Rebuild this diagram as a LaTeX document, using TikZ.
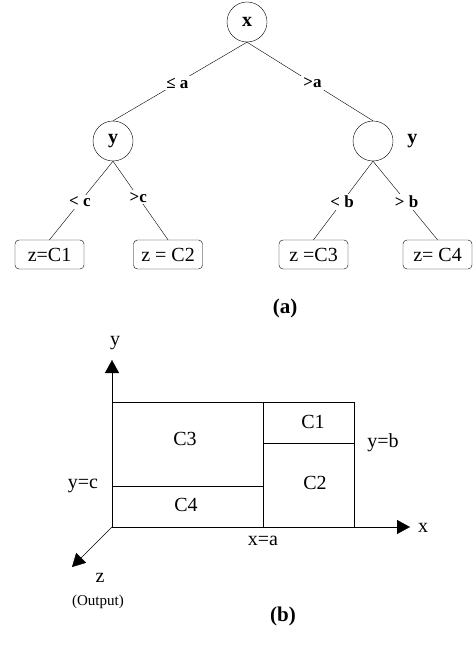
\documentclass[tikz,border=0pt]{standalone}
\usepackage{fontspec}
\setmainfont{Liberation Serif}
\usetikzlibrary{positioning, arrows.meta}

\tikzset{
  split/.style={circle, draw, minimum size=40pt, inner sep=0pt,
    font=\bfseries\fontsize{20}{22}\selectfont},
  leaf/.style={draw, rounded corners=4pt, minimum width=69pt,
    minimum height=29pt, inner sep=0pt},
  cond/.style={fill=white, inner sep=2pt, font=\bfseries\fontsize{17}{20}\selectfont},
  axis/.style={-{Triangle[length=13pt,width=14pt]}},
  caption/.style={font=\bfseries\fontsize{21}{24}\selectfont},
}

\begin{document}
\begin{tikzpicture}[x=1pt, y=-1pt, font=\fontsize{20}{23}\selectfont]
  \useasboundingbox (0,0) rectangle (474,658);

  % (a) decision tree
  \node(x_split)[split] at (247,22) {x};
  \node(y_left)[split] at (113,141) {y};
  \node(y_right)[split] at (373,141) {};
  \node(y_right_lab)[right=14pt of y_right, font=\bfseries\fontsize{20}{22}\selectfont, inner sep=0pt]{y};

  \node(c1)[leaf] at (49.5,254.5) {z=C1};
  \node(c2)[leaf] at (168,254.5) {z = C2};
  \node(c3)[leaf] at (313.5,254.5) {z =C3};
  \node(c4)[leaf] at (437.5,254.5) {z= C4};

  \draw (x_split.south) -- node[cond, pos=.52]{≤ a} (y_left.north);
  \draw (x_split.south) -- node[cond, pos=.52]{>a} (y_right.north);
  \draw (y_left.south) -- node[cond, pos=.52]{< c} (c1.north);
  \draw (y_left.south) -- node[cond, pos=.46]{>c} (c2.north);
  \draw (y_right.south) -- node[cond, pos=.52]{< b} (c3.north);
  \draw (y_right.south) -- node[cond, pos=.52]{> b} (c4.north);

  \node(cap_a)[caption] at (285,308) {(a)};

  % (b) partition of the plane
  \coordinate (origin) at (112,527);
  \coordinate (y_tip) at (112,360);
  \coordinate (x_tip) at (410,527);
  \coordinate (z_tip) at (72,567);
  \draw[axis] (origin) -- (y_tip);
  \draw[axis] (origin) -- (x_tip);
  \draw[axis] (origin) -- (z_tip);
  \node(y_axis_lab) at (115,343) {y};
  \node(x_axis_lab) at (423,528) {x};
  \node(z_axis_lab) at (100,578) {z};
  \node(out_lab)[font=\fontsize{15}{17}\selectfont] at (98,602) {(Output)};

  \draw (112,402) rectangle (354,527);
  \draw (263,402) -- (263,527);
  \draw (263,443) -- (354,443);
  \draw (112,486) -- (263,486);

  \node(r_c1) at (313,422) {C1};
  \node(r_c2) at (315,483) {C2};
  \node(r_c3) at (185,439) {C3};
  \node(r_c4) at (186,505) {C4};
  \node(lab_b) at (383,443) {y=b};
  \node(lab_c) at (83,486) {y=c};
  \node(lab_a) at (263,541) {x=a};

  \node(cap_b)[caption] at (283,616) {(b)};
\end{tikzpicture}
\end{document}
